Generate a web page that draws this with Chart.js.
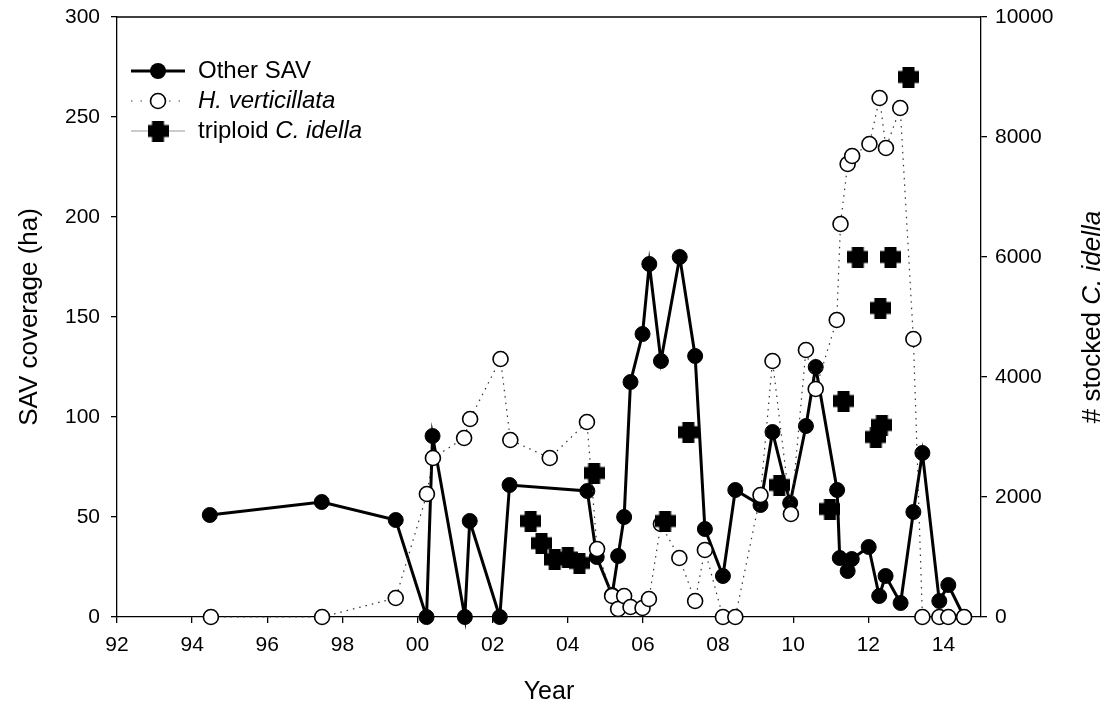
<!DOCTYPE html>
<html>
<head>
<meta charset="utf-8">
<script src="https://cdn.jsdelivr.net/npm/chart.js@4.4.0/dist/chart.umd.min.js"></script>
<style>
html, body { margin: 0; padding: 0; background: #fff; }
</style>
</head>
<body>
<canvas id="myChart" width="1111" height="707"></canvas>
<script>
// Other SAV (ha)
var otherYear = [1994.47, 1997.45, 1999.42, 2000.24, 2000.40, 2001.26, 2001.39, 2002.19, 2002.45, 2004.52,
  2004.77, 2005.18, 2005.34, 2005.50, 2005.67, 2005.99, 2006.17, 2006.48, 2006.98, 2007.39,
  2007.65, 2008.13, 2008.46, 2009.13, 2009.45, 2009.92, 2010.34, 2010.60, 2011.17, 2011.24,
  2011.45, 2011.56, 2012.01, 2012.29, 2012.46, 2012.86, 2013.20, 2013.44, 2013.89, 2014.13, 2014.55];
var otherHa = [51, 57.5, 48.5, 0, 90.5, 0, 48, 0, 66, 63,
  30, 11, 30.5, 50, 117.5, 141.5, 176.5, 128, 180, 130.5,
  44, 20.5, 63.5, 56, 92.5, 57, 95.5, 125, 63.5, 29.5,
  23, 29, 35, 10.5, 20.5, 7, 52.5, 82, 8, 16, 0];

// H. verticillata (ha)
var hydYear = [1994.50, 1997.46, 1999.42, 2000.25, 2000.41, 2001.24, 2001.40, 2002.21, 2002.47, 2003.52,
  2004.51, 2004.78, 2005.18, 2005.34, 2005.50, 2005.67, 2005.99, 2006.16, 2006.48, 2006.97,
  2007.39, 2007.65, 2008.13, 2008.46, 2009.13, 2009.45, 2009.94, 2010.34, 2010.60, 2011.16,
  2011.26, 2011.45, 2011.57, 2012.03, 2012.30, 2012.47, 2012.85, 2013.20, 2013.44, 2013.89,
  2014.13, 2014.55];
var hydHa = [0, 0, 9.5, 61.5, 79.5, 89.5, 99, 129, 88.5, 79.5,
  97.5, 34, 10.5, 4, 10.5, 5, 4.5, 9, 46.5, 29.5,
  8, 33.5, 0, 0, 61, 128, 51.5, 133.5, 114, 148.5,
  196.5, 226.5, 230.5, 236.5, 259.5, 234.5, 254.5, 139, 0, 0,
  0, 0];

// triploid C. idella stocked (count, right axis)
var carpYear = [2003.01, 2003.30, 2003.65, 2004.00, 2004.31, 2004.70, 2006.59, 2007.21, 2009.63, 2010.98,
  2011.34, 2011.72, 2012.20, 2012.32, 2012.36, 2012.59, 2013.07];
var carpCount = [1600, 1230, 960, 990, 900, 2400, 1600, 3080, 2200, 1800,
  3600, 6000, 3000, 5150, 3200, 6000, 9000];

var leftTicks = [0, 50, 100, 150, 200, 250, 300];
var rightTicks = [0, 2000, 4000, 6000, 8000, 10000];

function pairs(xs, ys) {
  return xs.map(function(x, i) { return { x: x, y: ys[i] }; });
}

function makePlus(size) {
  var c = document.createElement('canvas');
  c.width = size; c.height = size;
  var g = c.getContext('2d');
  var a = Math.round(size * 0.56), o = (size - a) / 2;
  g.fillStyle = '#000';
  g.fillRect(o, 0, a, size);
  g.fillRect(0, o, size, a);
  return c;
}
var plus = makePlus(21);

var FONT = "'Liberation Sans', Arial, sans-serif";
Chart.defaults.font.family = FONT;
Chart.defaults.color = '#000';

// top frame line, right axis title and legend with italic parts
var extras = {
  id: 'extras',
  afterDraw: function(chart) {
    var ctx = chart.ctx, a = chart.chartArea;
    ctx.save();
    ctx.strokeStyle = '#000';
    ctx.lineWidth = 1.3;
    ctx.beginPath();
    ctx.moveTo(a.left, a.top);
    ctx.lineTo(a.right, a.top);
    ctx.stroke();

    // right title
    var normal = '26px ' + FONT, ital = 'italic 26px ' + FONT;
    var p1 = '# stocked ', p2 = 'C. idella';
    ctx.font = normal; var w1 = ctx.measureText(p1).width;
    ctx.font = ital; var w2 = ctx.measureText(p2).width;
    ctx.translate(1093, (a.top + a.bottom) / 2);
    ctx.rotate(-Math.PI / 2);
    ctx.fillStyle = '#000';
    ctx.textBaseline = 'middle';
    ctx.textAlign = 'left';
    ctx.font = normal; ctx.fillText(p1, -(w1 + w2) / 2, 0);
    ctx.font = ital; ctx.fillText(p2, -(w1 + w2) / 2 + w1, 0);
    ctx.restore();

    // legend
    ctx.save();
    var x0 = 131, x1 = 185, xm = 158, tx = 198;
    var rows = [71, 101, 131];
    ctx.strokeStyle = '#000';
    ctx.lineWidth = 3;
    ctx.beginPath(); ctx.moveTo(x0, rows[0]); ctx.lineTo(x1, rows[0]); ctx.stroke();
    ctx.fillStyle = '#000';
    ctx.beginPath(); ctx.arc(xm, rows[0], 8, 0, 2 * Math.PI); ctx.fill();

    ctx.strokeStyle = '#444';
    ctx.lineWidth = 1.2;
    ctx.setLineDash([1.5, 8]);
    ctx.beginPath(); ctx.moveTo(x0, rows[1]); ctx.lineTo(x1, rows[1]); ctx.stroke();
    ctx.setLineDash([]);
    ctx.fillStyle = '#fff';
    ctx.strokeStyle = '#000';
    ctx.lineWidth = 1.6;
    ctx.beginPath(); ctx.arc(xm, rows[1], 7.5, 0, 2 * Math.PI); ctx.fill(); ctx.stroke();

    ctx.strokeStyle = '#999';
    ctx.lineWidth = 1;
    ctx.beginPath(); ctx.moveTo(x0, rows[2]); ctx.lineTo(x1, rows[2]); ctx.stroke();
    ctx.drawImage(plus, xm - 10.5, rows[2] - 10.5);

    ctx.fillStyle = '#000';
    ctx.textBaseline = 'middle';
    ctx.textAlign = 'left';
    var lf = '24px ' + FONT, li = 'italic 24px ' + FONT;
    ctx.font = lf; ctx.fillText('Other SAV', tx, rows[0]);
    ctx.font = li; ctx.fillText('H. verticillata', tx, rows[1]);
    ctx.font = lf; ctx.fillText('triploid ', tx, rows[2]);
    var wt = ctx.measureText('triploid ').width;
    ctx.font = li; ctx.fillText('C. idella', tx + wt, rows[2]);
    ctx.restore();
  }
};

function fixWidth(w) {
  return function(s) { s.width = w; s.paddingTop = 0; s.paddingBottom = 0; };
}

var ctx = document.getElementById('myChart').getContext('2d');
var mychart = new Chart(ctx, {
  type: 'line',
  data: {
    datasets: [{
      label: 'triploid C. idella',
      data: pairs(carpYear, carpCount),
      yAxisID: 'y2',
      showLine: false,
      pointStyle: plus,
      pointRadius: 10,
      order: 0,
      clip: false
    }, {
      label: 'H. verticillata',
      data: pairs(hydYear, hydHa),
      yAxisID: 'y',
      borderColor: '#333',
      borderWidth: 1.2,
      borderDash: [1.5, 5],
      pointStyle: 'circle',
      pointRadius: 7.5,
      pointBackgroundColor: '#fff',
      pointBorderColor: '#000',
      pointBorderWidth: 1.6,
      tension: 0,
      order: 1,
      clip: false
    }, {
      label: 'Other SAV',
      data: pairs(otherYear, otherHa),
      yAxisID: 'y',
      borderColor: '#000',
      borderWidth: 3,
      pointStyle: 'circle',
      pointRadius: 7.5,
      pointBackgroundColor: '#000',
      pointBorderColor: '#000',
      pointBorderWidth: 1,
      tension: 0,
      order: 2,
      clip: false
    }]
  },
  options: {
    responsive: false,
    animation: false,
    events: [],
    layout: { padding: { top: 17, left: 0, right: 0, bottom: 0 } },
    plugins: {
      legend: { display: false },
      tooltip: { enabled: false }
    },
    scales: {
      x: {
        type: 'linear',
        min: 1992,
        max: 2015,
        afterFit: function(s) { s.height = 90; s.paddingLeft = 0; s.paddingRight = 0; },
        grid: { drawOnChartArea: false, drawTicks: true, tickLength: 6, color: '#000', lineWidth: 1.3 },
        border: { display: true, color: '#000', width: 1.3 },
        ticks: {
          stepSize: 2,
          includeBounds: false,
          maxRotation: 0,
          padding: 10,
          font: { size: 21 },
          callback: function(v) { return String(Math.round(v) % 100).padStart(2, '0'); }
        },
        title: { display: true, text: 'Year', font: { size: 25 }, padding: { top: 4, bottom: 0 } }
      },
      y: {
        position: 'left',
        min: leftTicks[0],
        max: leftTicks[leftTicks.length - 1],
        afterFit: fixWidth(117),
        grid: { drawOnChartArea: false, drawTicks: true, tickLength: 6, color: '#000', lineWidth: 1.3 },
        border: { display: true, color: '#000', width: 1.3 },
        ticks: { stepSize: 50, padding: 11, font: { size: 21 } },
        title: { display: true, text: 'SAV coverage (ha)', font: { size: 26 }, padding: { top: 14, bottom: 0 } }
      },
      y2: {
        position: 'right',
        min: rightTicks[0],
        max: rightTicks[rightTicks.length - 1],
        afterFit: fixWidth(130),
        grid: { drawOnChartArea: false, drawTicks: true, tickLength: 6, color: '#000', lineWidth: 1.3 },
        border: { display: true, color: '#000', width: 1.3 },
        ticks: { stepSize: 2000, padding: 8, font: { size: 21 }, callback: function(v) { return String(v); } }
      }
    }
  },
  plugins: [extras]
});
</script>
</body>
</html>
